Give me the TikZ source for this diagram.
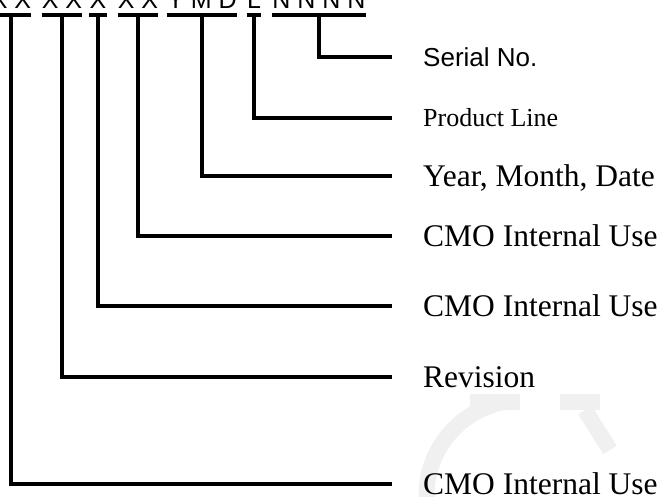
\documentclass[tikz,border=0pt]{standalone}
\usepackage{fontspec}
\setmainfont{Liberation Serif}
\newfontfamily\arialf{Liberation Sans}
\begin{document}
\begin{tikzpicture}[x=1pt,y=-1pt,
  toplet/.style={font=\arialf\fontsize{25}{25}\selectfont, inner sep=0pt, anchor=base},
  lab/.style={font=\fontsize{31.5}{32}\selectfont, inner sep=0pt, anchor=base west},
  labsmall/.style={font=\fontsize{26}{26}\selectfont, inner sep=0pt, anchor=base west},
  labsans/.style={font=\arialf\fontsize{26}{26}\selectfont, inner sep=0pt, anchor=base west},
  wire/.style={line width=4pt, line join=miter},
  wmark/.style={line width=16pt, black!6}]
\useasboundingbox (0,0) rectangle (664,496);
% faint watermark
\draw[wmark] (505,402) arc[start angle=-100, end angle=-190, radius=95];
\draw[wmark] (470,402) -- (520,402);
\draw[wmark] (560,402) -- (600,402);
\draw[wmark] (585,410) -- (610,450);
% code letters
\coordinate (u) at (0,15);
\node[toplet] (g1) at (11,8) {X X};
\node[toplet] (g2) at (62,8) {X X};
\node[toplet] (g3) at (98,8) {X};
\node[toplet] (g4) at (138,8) {X X};
\node[toplet] (g5) at (202,8) {Y M D};
\node[toplet] (g6) at (254,8) {L};
\node[toplet] (g7) at (319,8) {N N N N};
\foreach \g in {g1,g2,g3,g4,g5,g6,g7}{
  \draw[wire] (\g.west |- u) -- (\g.east |- u);
}
% line ends
\coordinate (e1) at (392,57);
\coordinate (e2) at (392,118);
\coordinate (e3) at (392,176);
\coordinate (e4) at (392,236);
\coordinate (e5) at (392,306);
\coordinate (e6) at (392,377);
\coordinate (e7) at (392,484);
% labels
\node[labsans]  (l1) at (423,57+9.3)  {Serial No.};
\node[labsmall] (l2) at (423,118+8.6) {Product Line};
\node[lab]      (l3) at (423,176+10.4) {Year, Month, Date};
\node[lab]      (l4) at (423,236+10.4) {CMO Internal Use};
\node[lab]      (l5) at (423,306+10.4) {CMO Internal Use};
\node[lab]      (l6) at (423,377+10.4) {Revision};
\node[lab]      (l7) at (423,484+10.4) {CMO Internal Use};
% connectors
\draw[wire] (g7 |- u) |- (e1);
\draw[wire] (g6 |- u) |- (e2);
\draw[wire] (g5 |- u) |- (e3);
\draw[wire] (g4 |- u) |- (e4);
\draw[wire] (g3 |- u) |- (e5);
\draw[wire] (g2 |- u) |- (e6);
\draw[wire] (g1 |- u) |- (e7);
\end{tikzpicture}
\end{document}
